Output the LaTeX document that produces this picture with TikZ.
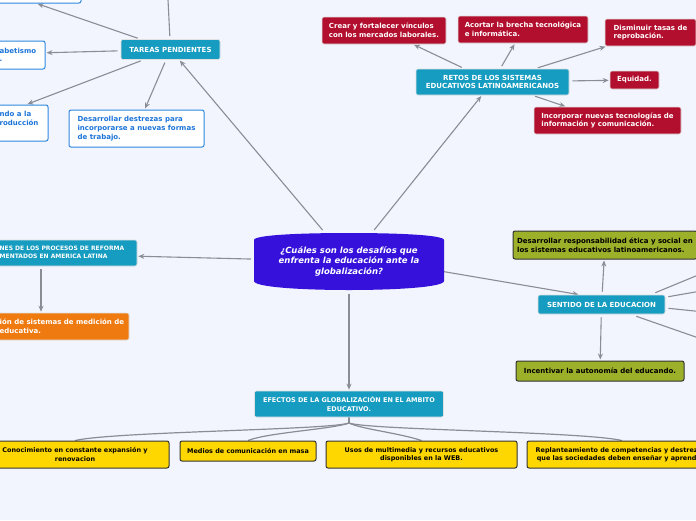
\documentclass[tikz,border=0pt]{standalone}
\usepackage{fontspec}
\setmainfont{DejaVu Sans}
\usetikzlibrary{arrows.meta,calc}
\definecolor{bgcol}{HTML}{F2F5FE}
\definecolor{tealcol}{HTML}{169CC0}
\definecolor{redcol}{HTML}{B20E2D}
\definecolor{greencol}{HTML}{9CB02A}
\definecolor{yellowcol}{HTML}{FFD700}
\definecolor{orangecol}{HTML}{EF7A10}
\definecolor{qcol}{HTML}{3511DB}
\definecolor{bluetxt}{HTML}{1C74D9}
\definecolor{blueline}{HTML}{2E88DF}
\definecolor{linecol}{HTML}{8A8D93}
\pgfdeclarelayer{back}
\pgfdeclarelayer{lines}
\pgfsetlayers{back,lines,main}
\tikzset{
  sz/.style 2 args={minimum width=#1,minimum height=#2},
  mapnode/.style={rounded corners=2pt,inner sep=0pt,font=\fontsize{7}{8.6}\selectfont\bfseries,align=center},
  tealbox/.style={mapnode,fill=tealcol,draw=black!12,line width=.6pt,text=white},
  redbox/.style={mapnode,fill=redcol,draw=black!12,line width=.6pt,text=white,align=left},
  bluebox/.style={mapnode,fill=white,draw=blueline,line width=1pt,text=bluetxt,align=left},
  greenbox/.style={mapnode,fill=greencol,draw=black!80,line width=1pt,align=left},
  yellowbox/.style={mapnode,fill=yellowcol,draw=black!80,line width=1pt,font=\fontsize{6.45}{8.3}\selectfont\bfseries},
  orangebox/.style={mapnode,fill=orangecol,draw=black!12,line width=.6pt},
  cuttext/.style={inner sep=0pt,anchor=west,align=left,font=\fontsize{7}{8.6}\selectfont\bfseries},
  arr/.style={draw=linecol,line width=1.1pt,-{Stealth[length=6pt,width=5pt]},shorten <=3pt,shorten >=1pt},
  link/.style={draw=linecol,line width=1.1pt},
  tree/.style={draw=linecol,line width=1.2pt}
}
\begin{document}
\begin{tikzpicture}[x=1pt,y=-1pt]
\useasboundingbox (0,0) rectangle (696,520);
\begin{pgfonlayer}{back}
\fill[bgcol] (0,0) rectangle (696,520);
\end{pgfonlayer}
\clip (0,0) rectangle (696,520);

\fill[qcol] (254,240) .. controls (254,235) and (300,233) .. (349,233) .. controls (398,233) and (444,235) .. (444,240) -- (444,281) .. controls (444,287) and (398,290) .. (349,290) .. controls (300,290) and (254,287) .. (254,281) -- cycle;
\node[text=white,font=\fontsize{8.5}{10.5}\selectfont\bfseries\itshape,align=center,sz={190}{58},inner sep=0pt] (q) at (349,261.5) {¿Cuáles son los desafíos que\\enfrenta la educación ante la\\globalización?};

\node[tealbox,sz={99}{20}] (tareas) at (170.5,49.5) {TAREAS PENDIENTES};
\node[bluebox,sz={202}{38}] (topbox) at (-20,-16) {};
\node[bluebox,sz={170}{28}] (alfa) at (-40,55) {};
\node[cuttext,text=bluetxt] (alfat) at (-0.5,55) {abetismo\\.};
\node[bluebox,sz={140}{36}] (ndo) at (-22,123) {};
\node[cuttext,text=bluetxt] (ndot) at (-0.5,118.5) {ndo a la\\roducción};
\node[bluebox,sz={135}{37}] (destrezas) at (136.5,128.5) {Desarrollar destrezas para\\incorporarse a nuevas formas\\de trabajo.};

\node[tealbox,sz={153}{26}] (retos) at (492.5,82) {RETOS DE LOS SISTEMAS\\EDUCATIVOS LATINOAMERICANOS};
\node[redbox,sz={124}{27}] (crear) at (384,30.5) {Crear y fortalecer vínculos\\con los mercados laborales.};
\node[redbox,sz={130}{27}] (acortar) at (523,29.5) {Acortar la brecha tecnológica\\e informática.};
\node[redbox,sz={91}{27}] (disminuir) at (650.5,32.5) {Disminuir tasas de\\reprobación.};
\node[redbox,sz={49}{18}] (equidad) at (634.5,80) {Equidad.};
\node[redbox,sz={147}{27}] (incorporar) at (607.5,120.5) {Incorporar nuevas tecnologías de\\información y comunicación.};

\node[tealbox,sz={256}{26}] (reforma) at (9,253) {};
\node[cuttext,text=white,font=\fontsize{6}{8.4}\selectfont\bfseries] (reformat) at (-0.5,252.5) {NES DE LOS PROCESOS DE REFORMA\\MENTADOS EN AMERICA LATINA};
\node[orangebox,sz={176}{27}] (medicion) at (41,326.5) {};
\node[cuttext,text=white] (mediciont) at (-0.5,326.5) {ión de sistemas de medición de\\educativa.};

\node[tealbox,sz={127}{19}] (sentido) at (601.5,304.5) {SENTIDO DE LA EDUCACION};
\node[greenbox,sz={184}{28}] (etica) at (605,245) {Desarrollar responsabilidad ética y social en\\los sistemas educativos latinoamericanos.};
\node[greenbox,sz={168}{20}] (autonomia) at (600,371) {Incentivar la autonomía del educando.};

\node[tealbox,sz={189}{26},font=\fontsize{6.5}{8.4}\selectfont\bfseries] (efectos) at (349,404) {EFECTOS DE LA GLOBALIZACIÓN EN EL AMBITO\\EDUCATIVO.};
\node[yellowbox,sz={188}{27}] (conocimiento) at (75,454.5) {Conocimiento en constante expansión y\\renovacion};
\node[yellowbox,sz={136}{20}] (medios) at (248,451) {Medios de comunicación en masa};
\node[yellowbox,sz={191}{27}] (multimedia) at (421.5,454.5) {Usos de multimedia y recursos educativos\\disponibles en la WEB.};
\node[yellowbox,sz={190}{27}] (competencias) at (622,454.5) {};
\node[cuttext,align=center,font=\fontsize{6.45}{8.3}\selectfont\bfseries] (competenciast) at (535.5,454.5) {Replanteamiento de competencias y destrez\\que las sociedades deben enseñar y aprend};

\coordinate (tup) at (166,-40);
\coordinate (s1) at (720,266);
\coordinate (s2) at (720,287.7);
\coordinate (s3) at (720,313.6);
\coordinate (s4) at (720,345.4);
\coordinate (fork) at (349,423);

\begin{pgfonlayer}{lines}
\clip (0,0) rectangle (696,520);
\draw[arr] (q) -- (tareas);
\draw[arr] (q) -- (retos);
\draw[arr] (q) -- (reforma);
\draw[arr] ([yshift=6pt]q.center) -- ([xshift=-22pt]sentido.north);
\draw[arr] (q) -- (efectos);
\draw[link,shorten <=3pt] (tareas) -- (tup);
\draw[arr] (tareas) -- (topbox);
\draw[arr] (tareas) -- (alfa);
\draw[arr] (tareas) -- (ndo);
\draw[arr] (tareas) -- (destrezas);
\draw[arr] (retos) -- (crear);
\draw[arr] (retos) -- (acortar);
\draw[arr] (retos) -- (disminuir);
\draw[arr] (retos) -- (equidad);
\draw[arr] (retos) -- (incorporar);
\draw[arr] (reforma.south -| medicion.north) -- (medicion);
\draw[arr] (sentido) -- (etica);
\draw[arr] (sentido) -- (autonomia);
\draw[link] ([xshift=-10pt,yshift=2pt]sentido.north east) -- (s1);
\draw[link] ([xshift=3pt,yshift=-2pt]sentido.north east) -- (s2);
\draw[link] ([xshift=3pt,yshift=6pt]sentido.south east) -- (s3);
\draw[link] ([xshift=-29pt,yshift=-2pt]sentido.south east) -- (s4);
\draw[tree] (efectos.south) -- (fork);
\draw[tree] (fork) .. controls +(-20,7) and +(40,-9) .. (conocimiento.north);
\draw[tree] (fork) .. controls +(-15,6) and +(20,-8) .. (medios.north);
\draw[tree] (fork) .. controls +(12,6) and +(-25,-8) .. (multimedia.north);
\draw[tree] (fork) .. controls +(20,7) and +(-40,-9) .. (competencias.north);
\end{pgfonlayer}
\end{tikzpicture}
\end{document}
